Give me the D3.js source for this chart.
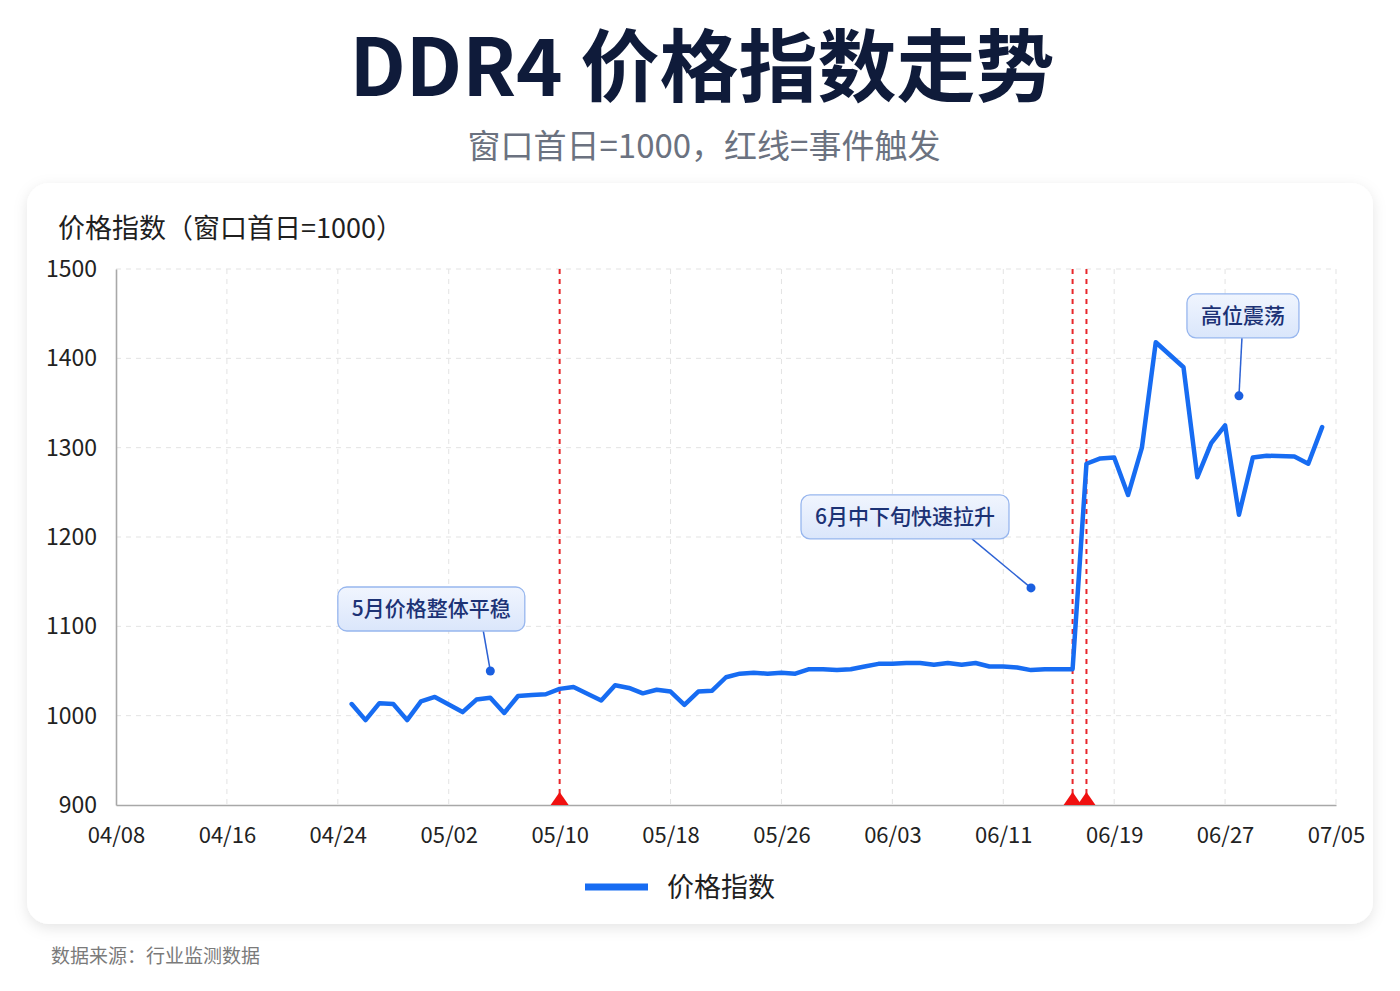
<!DOCTYPE html>
<html>
<head>
<meta charset="utf-8">
<script src="https://cdn.jsdelivr.net/npm/d3@7"></script>
<style>
    body { margin: 0; background: #ffffff; }
    svg { display: block; font-family: "Noto Sans CJK SC", "Noto Sans", sans-serif; }
</style>
</head>
<body>
<svg id="chart" width="1400" height="991"></svg>
<script>
// ---- data ----
const dates = [
    "2025-04-25", "2025-04-26", "2025-04-27", "2025-04-28", "2025-04-29", "2025-04-30",
    "2025-05-01", "2025-05-03", "2025-05-04", "2025-05-05", "2025-05-06", "2025-05-07",
    "2025-05-08", "2025-05-09", "2025-05-10", "2025-05-11", "2025-05-13", "2025-05-14",
    "2025-05-15", "2025-05-16", "2025-05-17", "2025-05-18", "2025-05-19", "2025-05-20",
    "2025-05-21", "2025-05-22", "2025-05-23", "2025-05-24", "2025-05-25", "2025-05-26",
    "2025-05-27", "2025-05-28", "2025-05-29", "2025-05-30", "2025-05-31", "2025-06-01",
    "2025-06-02", "2025-06-03", "2025-06-04", "2025-06-05", "2025-06-06", "2025-06-07",
    "2025-06-08", "2025-06-09", "2025-06-10", "2025-06-11", "2025-06-12", "2025-06-13",
    "2025-06-14", "2025-06-15", "2025-06-16", "2025-06-17", "2025-06-18", "2025-06-19",
    "2025-06-20", "2025-06-21", "2025-06-22", "2025-06-24", "2025-06-25", "2025-06-26",
    "2025-06-27", "2025-06-28", "2025-06-29", "2025-06-30", "2025-07-02", "2025-07-03",
    "2025-07-04"
];
const values = [
    1013, 995, 1014, 1013, 995, 1016,
    1021, 1004, 1018, 1020, 1003, 1022,
    1023, 1024, 1030, 1032, 1017, 1034,
    1031, 1025, 1029, 1027, 1012, 1027,
    1028, 1043, 1047, 1048, 1047, 1048,
    1047, 1052, 1052, 1051, 1052, 1055,
    1058, 1058, 1059, 1059, 1057, 1059,
    1057, 1059, 1055, 1055, 1054, 1051,
    1052, 1052, 1052, 1282, 1288, 1289,
    1247, 1300, 1418, 1390, 1267, 1305,
    1325, 1225, 1289, 1291, 1290, 1282,
    1323
];
const eventDates = ["2025-05-10", "2025-06-16", "2025-06-17"];
const tickDates = [
    "2025-04-08", "2025-04-16", "2025-04-24", "2025-05-02", "2025-05-10", "2025-05-18",
    "2025-05-26", "2025-06-03", "2025-06-11", "2025-06-19", "2025-06-27", "2025-07-05"
];
const yTicks = [900, 1000, 1100, 1200, 1300, 1400, 1500];
const noteTexts = ["5月价格整体平稳", "6月中下旬快速拉升", "高位震荡"];
const noteDates = ["2025-05-05", "2025-06-13", "2025-06-28"];
const noteValues = [1050, 1143, 1358];

// label box placement relative to its anchor dot (bx, by = box centre, px = pointer start x)
const noteLayout = [
    { bx: -59, by: -62, px: -7 },
    { bx: -126, by: -71, px: -59 },
    { bx: 4, by: -80, px: 3 }
];

const BLUE = '#176cf2';
const RED = '#e8262a';
const parse = d3.timeParse('%Y-%m-%d');
const series = dates.map((d, i) => ({ date: parse(d), value: values[i] }));

const svg = d3.select('#chart');
const defs = svg.append('defs');

const shadow = defs.append('filter').attr('id', 'cardShadow')
    .attr('x', '-5%').attr('y', '-5%').attr('width', '110%').attr('height', '115%');
shadow.append('feDropShadow')
    .attr('dx', 0).attr('dy', 4).attr('stdDeviation', 7)
    .attr('flood-color', '#000').attr('flood-opacity', 0.10);

const boxGrad = defs.append('linearGradient').attr('id', 'noteFill')
    .attr('x1', 0).attr('y1', 0).attr('x2', 0).attr('y2', 1);
boxGrad.append('stop').attr('offset', '0%').attr('stop-color', '#f0f5fe');
boxGrad.append('stop').attr('offset', '100%').attr('stop-color', '#dae6fb');

// ---- headings ----
svg.append('text')
    .attr('x', 702).attr('y', 96)
    .attr('text-anchor', 'middle')
    .attr('fill', '#0f1b3a')
    .style('font-size', '79px').style('font-weight', 700)
    .text('DDR4 价格指数走势');

svg.append('text')
    .attr('x', 704).attr('y', 158)
    .attr('text-anchor', 'middle')
    .attr('fill', '#6b7280')
    .style('font-size', '33px')
    .text('窗口首日=1000，红线=事件触发');

// ---- card ----
svg.append('rect')
    .attr('x', 27).attr('y', 183).attr('width', 1346).attr('height', 741)
    .attr('rx', 22)
    .attr('fill', '#ffffff')
    .attr('filter', 'url(#cardShadow)');

svg.append('text')
    .attr('x', 58).attr('y', 238)
    .attr('fill', '#1f1f1f')
    .style('font-size', '27px')
    .text('价格指数（窗口首日=1000）');

// ---- scales ----
const margin = { left: 116, right: 1336, top: 269, bottom: 805 };
const x = d3.scaleTime()
    .domain([parse(tickDates[0]), parse(tickDates[tickDates.length - 1])])
    .range([margin.left, margin.right]);
const y = d3.scaleLinear()
    .domain([yTicks[0], yTicks[yTicks.length - 1]])
    .range([margin.bottom, margin.top]);

// grid
const grid = svg.append('g').attr('class', 'grid')
    .attr('stroke', '#e3e3e3').attr('stroke-width', 1).attr('stroke-dasharray', '5,5');
grid.selectAll('.hg')
    .data(yTicks.slice(1))
    .join('line')
    .attr('x1', margin.left).attr('x2', margin.right)
    .attr('y1', d => y(d)).attr('y2', d => y(d));
grid.selectAll('.vg')
    .data(tickDates.slice(1).map(parse))
    .join('line')
    .attr('x1', d => x(d)).attr('x2', d => x(d))
    .attr('y1', margin.top).attr('y2', margin.bottom);

// axes
const xAxis = svg.append('g')
    .attr('transform', `translate(0,${margin.bottom})`)
    .call(d3.axisBottom(x)
        .tickValues(tickDates.map(parse))
        .tickFormat(d3.timeFormat('%m/%d'))
        .tickSize(0)
        .tickPadding(22));
xAxis.select('.domain').attr('stroke', '#a8a8a8').attr('stroke-width', 1.6);
xAxis.selectAll('text')
    .attr('fill', '#222')
    .style('font-size', '22px')
    .style('font-family', '"Noto Sans CJK SC", "Noto Sans", sans-serif');

const yAxis = svg.append('g')
    .attr('transform', `translate(${margin.left},0)`)
    .call(d3.axisLeft(y)
        .tickValues(yTicks)
        .tickFormat(d3.format('d'))
        .tickSize(0)
        .tickPadding(19));
yAxis.select('.domain').attr('stroke', '#a8a8a8').attr('stroke-width', 1.6);
yAxis.selectAll('text')
    .attr('fill', '#222')
    .style('font-size', '23px')
    .style('font-family', '"Noto Sans CJK SC", "Noto Sans", sans-serif');

// event markers
const events = svg.append('g').attr('class', 'events');
events.selectAll('line')
    .data(eventDates.map(parse))
    .join('line')
    .attr('x1', d => x(d)).attr('x2', d => x(d))
    .attr('y1', margin.top).attr('y2', margin.bottom)
    .attr('stroke', RED).attr('stroke-width', 2)
    .attr('stroke-dasharray', '5,5');
events.selectAll('path')
    .data(eventDates.map(parse))
    .join('path')
    .attr('d', d => `M${x(d) - 9},${margin.bottom} L${x(d) + 9},${margin.bottom} L${x(d)},${margin.bottom - 13} Z`)
    .attr('fill', '#f01010');

// price line
const line = d3.line()
    .x(d => x(d.date))
    .y(d => y(d.value));

svg.append('path')
    .datum(series)
    .attr('fill', 'none')
    .attr('stroke', BLUE)
    .attr('stroke-width', 4.5)
    .attr('stroke-linejoin', 'round')
    .attr('stroke-linecap', 'round')
    .attr('d', line);

// annotations
const notes = noteTexts.map((t, i) => ({
    text: t,
    cx: x(parse(noteDates[i])),
    cy: y(noteValues[i]),
    ...noteLayout[i]
}));

const noteG = svg.append('g').attr('class', 'notes');
notes.forEach(n => {
    const g = noteG.append('g');
    const boxH = 44;
    const label = g.append('text')
        .attr('x', n.cx + n.bx)
        .attr('y', n.cy + n.by + 7)
        .attr('text-anchor', 'middle')
        .attr('fill', '#1c3275')
        .style('font-size', '21px')
        .style('font-weight', 500)
        .text(n.text);
    const w = label.node().getComputedTextLength() + 28;

    g.insert('line', 'text')
        .attr('x1', n.cx + n.px).attr('y1', n.cy + n.by + boxH / 2)
        .attr('x2', n.cx).attr('y2', n.cy)
        .attr('stroke', '#2d62d4').attr('stroke-width', 1.5);
    g.insert('rect', 'text')
        .attr('x', n.cx + n.bx - w / 2)
        .attr('y', n.cy + n.by - boxH / 2)
        .attr('width', w).attr('height', boxH)
        .attr('rx', 9)
        .attr('fill', 'url(#noteFill)')
        .attr('stroke', '#97b6ee').attr('stroke-width', 1.3);
    g.append('circle')
        .attr('cx', n.cx).attr('cy', n.cy).attr('r', 4.5)
        .attr('fill', '#1a5fe0');
});

// legend
const legend = svg.append('g').attr('transform', 'translate(585,887)');
legend.append('line')
    .attr('x1', 0).attr('x2', 63).attr('y1', 0).attr('y2', 0)
    .attr('stroke', BLUE).attr('stroke-width', 7);
legend.append('text')
    .attr('x', 82).attr('y', 10)
    .attr('fill', '#1f1f1f')
    .style('font-size', '27px')
    .text('价格指数');

// footer
svg.append('text')
    .attr('x', 51).attr('y', 963)
    .attr('fill', '#7a7a7a')
    .style('font-size', '19px')
    .text('数据来源：行业监测数据');
</script>
</body>
</html>
